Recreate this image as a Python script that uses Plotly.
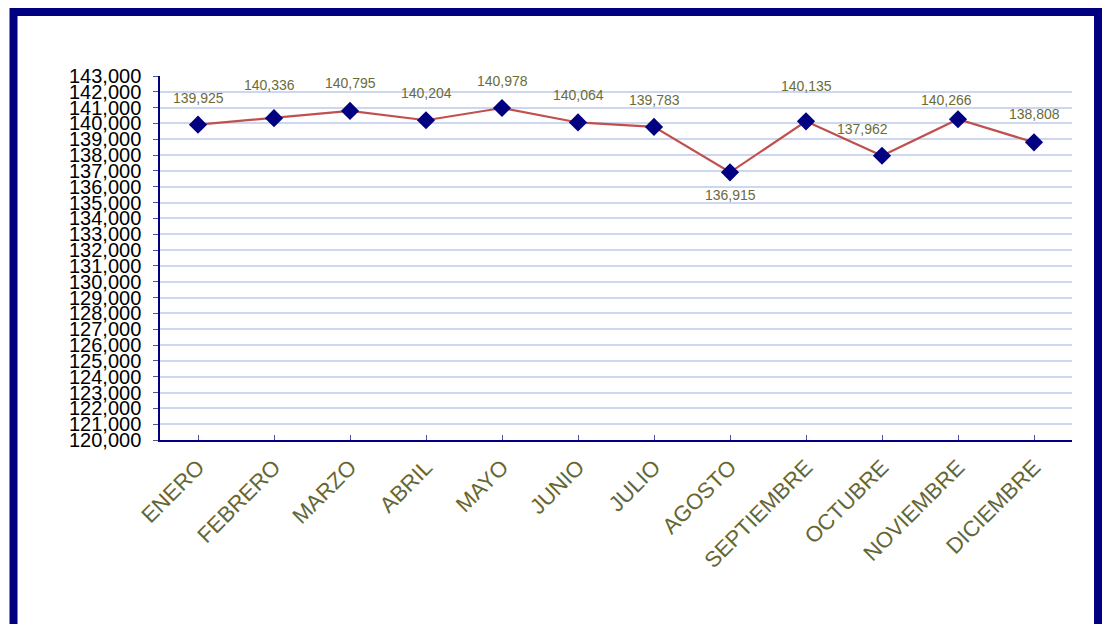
import plotly.graph_objects as go

months = ["ENERO", "FEBRERO", "MARZO", "ABRIL", "MAYO", "JUNIO", "JULIO",
          "AGOSTO", "SEPTIEMBRE", "OCTUBRE", "NOVIEMBRE", "DICIEMBRE"]
values = [139925, 140336, 140795, 140204, 140978, 140064, 139783,
          136915, 140135, 137962, 140266, 138808]
y_ticks = list(range(120000, 143001, 1000))

# label offsets (px) for data labels
label_dx = [0, -5, 0, 0, 0, 0, 0, 0, 0, -20, -12, 0]
label_dy = [27, 33, 28, 27, 27, 27, 27, -23, 35, 27, 19, 28]

OFF = 8  # page body margin
W, H = 1110 - 2 * OFF, 632 - 2 * OFF
L, T = 160 - OFF, 76 - OFF
R = W - (1072 - OFF)
B = H - (440 - OFF)
pw, ph = W - L - R, H - T - B

fig = go.Figure()
fig.add_trace(go.Scatter(
    x=months, y=values, mode="lines+markers",
    line=dict(color="#c0504d", width=2.2),
    marker=dict(symbol="diamond", size=14, color="#000080",
                line=dict(width=0)),
    hoverinfo="x+y", showlegend=False,
))

for m, v, dx, dy in zip(months, values, label_dx, label_dy):
    fig.add_annotation(x=m, y=v, text=f"{v:,}", showarrow=False,
                       xshift=dx, yshift=dy,
                       font=dict(family="Liberation Sans, Arial", size=14,
                                 color="#6b6b3a"))

def px_to_dx(px):
    return (px - OFF - L) / pw

def py_to_dy(py):
    return 1 - (py - OFF - T) / ph

fig.add_shape(type="rect", xref="paper", yref="paper",
              x0=px_to_dx(13.5), x1=px_to_dx(1098), y0=py_to_dy(660), y1=py_to_dy(12),
              line=dict(color="#000080", width=8), fillcolor="rgba(0,0,0,0)",
              layer="above")

fig.update_layout(
    width=W, height=H,
    margin=dict(l=L, r=R, t=T, b=B, pad=0),
    paper_bgcolor="white", plot_bgcolor="white",
    font=dict(family="Liberation Sans, Arial", color="black"),
    xaxis=dict(
        type="category", range=[-0.5, 11.5],
        showline=True, linecolor="#000080", linewidth=1.5,
        ticks="inside", ticklen=5, tickcolor="#5050a8", tickwidth=1,
        tickangle=-45, ticklabelstandoff=4,
        tickfont=dict(size=22, color="#666633", family="Liberation Sans, Arial"),
        showgrid=False, zeroline=False, fixedrange=True,
    ),
    yaxis=dict(
        range=[120000, 143000], tickvals=y_ticks,
        ticktext=[f"{t:,}" for t in y_ticks],
        showline=True, linecolor="#000080", linewidth=1.5,
        ticks="outside", ticklen=5, tickcolor="#5050a8", tickwidth=1,
        ticklabelstandoff=8,
        tickfont=dict(size=20, color="black", family="Liberation Sans, Arial"),
        showgrid=True, gridcolor="#cdd7ef", gridwidth=2,
        zeroline=False, fixedrange=True,
    ),
)

fig.write_html("out.html")
